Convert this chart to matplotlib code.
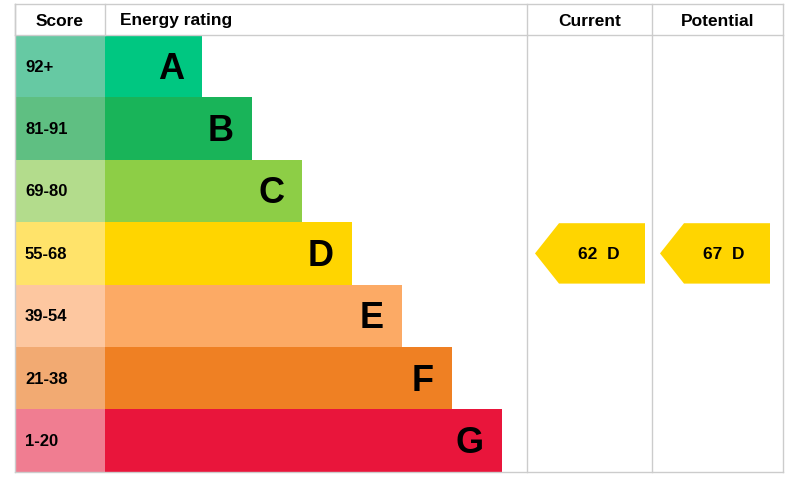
import matplotlib
matplotlib.use("Agg")
import matplotlib.pyplot as plt
from matplotlib.patches import Rectangle, Polygon

bands = ["A", "B", "C", "D", "E", "F", "G"]
scores = ["92+", "81-91", "69-80", "55-68", "39-54", "21-38", "1-20"]
bar_colors = ["#00c781", "#19b459", "#8dce46", "#ffd500", "#fcaa65", "#ef8023", "#e9153b"]
score_colors = ["#66c9a3", "#5fbf82", "#b3dc8c", "#ffe36a", "#fdc7a0", "#f2aa72", "#f07d91"]
current_value, current_band = 62, "D"
potential_value, potential_band = 67, "D"

fig = plt.figure(figsize=(7.86, 4.85), dpi=100)
ax = fig.add_axes([0, 0, 1, 1])
ax.set_xlim(0, 786); ax.set_ylim(485, 0); ax.axis("off")

top, head, row_h = 5, 36, 62.4
left, score_w, bar_x0, step = 15, 90, 105, 50
cur_x0, pot_x0, right = 527, 652, 783
bottom = head + row_h * 7

fs = dict(fontfamily="Liberation Sans", fontweight="bold")
ax.text(left + 45, 21, "Score", ha="center", va="center", fontsize=12.5, **fs)
ax.text(120, 21, "Energy rating", ha="left", va="center", fontsize=12.5, **fs)
ax.text((cur_x0 + pot_x0) / 2, 21, "Current", ha="center", va="center", fontsize=12.5, **fs)
ax.text((pot_x0 + right) / 2, 21, "Potential", ha="center", va="center", fontsize=12.5, **fs)

for i, b in enumerate(bands):
    y = head + i * row_h
    ax.add_patch(Rectangle((left, y), score_w, row_h, color=score_colors[i], lw=0))
    ax.text(left + 10, y + row_h / 2, scores[i], ha="left", va="center", fontsize=12, **fs)
    w = 97 + step * i
    ax.add_patch(Rectangle((bar_x0, y), w, row_h, color=bar_colors[i], lw=0))
    ax.text(bar_x0 + w - 18, y + row_h / 2 + 2, b, ha="right", va="center", fontsize=26, **fs)

lc = "#cccccc"
ax.plot([left, right], [top, top], color=lc, lw=1)
ax.plot([left, right], [head, head], color=lc, lw=1)
ax.plot([left, right], [bottom, bottom], color=lc, lw=1)
for x in [left, bar_x0, cur_x0, pot_x0, right]:
    ax.plot([x, x], [top, bottom if x in (cur_x0, pot_x0, right) else head], color=lc, lw=1)
ax.plot([left, left], [top, bottom], color=lc, lw=1)

def arrow(x0, val, band):
    i = bands.index(band)
    y = head + i * row_h
    c = bar_colors[i]
    pts = [(x0 + 8, y + row_h / 2), (x0 + 32, y + 1), (x0 + 118, y + 1), (x0 + 118, y + row_h - 1), (x0 + 32, y + row_h - 1)]
    ax.add_patch(Polygon(pts, closed=True, color=c, lw=0))
    ax.text(x0 + 72, y + row_h / 2, f"{val}  {band}", ha="center", va="center", fontsize=12.5, **fs)

arrow(cur_x0, current_value, current_band)
arrow(pot_x0, potential_value, potential_band)

fig.savefig("out.png", dpi=100)
